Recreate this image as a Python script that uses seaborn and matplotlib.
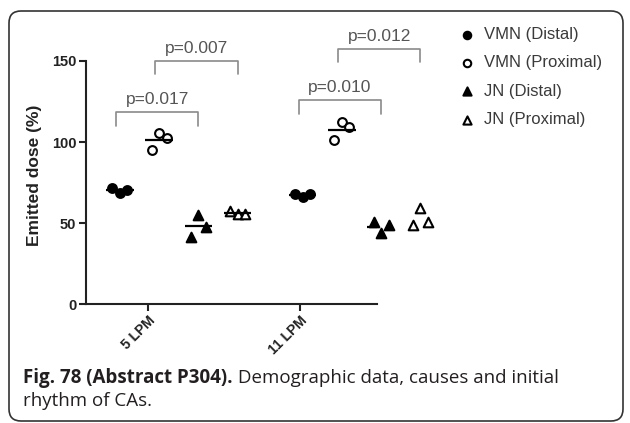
import numpy as np
import pandas as pd
import seaborn as sns
import matplotlib
matplotlib.use("Agg")
import matplotlib.pyplot as plt
from matplotlib.patches import FancyBboxPatch
from matplotlib.transforms import IdentityTransform

# ---------------- data ----------------
groups = ["5 LPM", "11 LPM"]
series = ["VMN (Distal)", "VMN (Proximal)", "JN (Distal)", "JN (Proximal)"]
vmn_distal = [[71.6, 68.5, 70.4], [67.9, 66.0, 67.9]]
vmn_proximal = [[95.1, 105.6, 102.5], [101.2, 112.3, 109.3]]
jn_distal = [[41.4, 54.9, 47.5], [50.6, 43.8, 48.8]]
jn_proximal = [[57.4, 55.6, 55.6], [48.8, 59.3, 50.6]]
p_labels = ["p=0.017", "p=0.007", "p=0.010", "p=0.012"]
yticks = [0, 50, 100, 150]
ylabel = "Emitted dose (%)"
caption_bold = "Fig. 78 (Abstract P304)."
caption_rest = " Demographic data, causes and initial"
caption_line2 = "rhythm of CAs."

# ---------------- style ----------------
sns.set_style("ticks")
plt.rcParams["font.family"] = ["Liberation Sans", "DejaVu Sans"]

fig = plt.figure(figsize=(6.30, 4.23), dpi=100)
ax = fig.add_axes([86 / 630, 1 - 304 / 423, (377 - 86) / 630, (304 - 61) / 423])

all_vals = [vmn_distal, vmn_proximal, jn_distal, jn_proximal]
rows = []
for gi, g in enumerate(groups):
    for si, s in enumerate(series):
        for pi, v in enumerate(all_vals[si][gi]):
            rows.append(dict(group=g, series=s, gi=gi, si=si, pi=pi, value=v))
df = pd.DataFrame(rows)
SERIES_STEP = 0.215
POINT_STEP = 0.041
df["center"] = df.gi + (df.si - 1.5) * SERIES_STEP
df["x"] = df.center + (df.pi - 1) * POINT_STEP

styles = {
    "VMN (Distal)": dict(marker="o", color="black", s=40),
    "VMN (Proximal)": dict(marker="o", color="white", s=40),
    "JN (Distal)": dict(marker="^", color="black", s=48),
    "JN (Proximal)": dict(marker="^", color="white", s=48),
}
for s in series:
    sub = df[df.series == s]
    st = styles[s]
    sns.scatterplot(data=sub, x="x", y="value", marker=st["marker"], color=st["color"],
                    s=st["s"], edgecolor="black", linewidth=1.5, ax=ax, label=s,
                    zorder=3, clip_on=False)

# mean lines
means = df.groupby(["gi", "si"]).agg(value=("value", "mean"), center=("center", "first")).reset_index()
ax.hlines(means.value, means.center - 0.075, means.center + 0.075, color="black", lw=1.6, zorder=4)

# brackets (group, series a, series b, top, leg bottom)
bracket_layout = [(0, 0, 2, 118.5, 110.0), (0, 1, 3, 150.0, 141.7),
                  (1, 0, 2, 126.0, 117.0), (1, 1, 3, 157.4, 149.4)]
for (gi, sa, sb, top, bot), lab in zip(bracket_layout, p_labels):
    xa = gi + (sa - 1.5) * SERIES_STEP - 0.02
    xb = gi + (sb - 1.5) * SERIES_STEP
    ax.plot([xa, xa, xb, xb], [bot, top, top, bot], color="#8a8a8a", lw=1.2,
            clip_on=False, zorder=2)
    ax.text((xa + xb) / 2, top + 3.2, lab, ha="center", va="bottom", fontsize=12.5,
            color="#555555", clip_on=False)

# axes
ax.set_xlim(-0.5075, 1.085)
ax.set_ylim(0, 150)
ax.set_yticks(yticks)
ax.set_xticks([-0.168, 0.663])
ax.set_xticklabels(groups, rotation=45, ha="right", va="top", rotation_mode="anchor",
                   fontweight="bold", fontsize=10, color="#222222")
for lab in ax.get_yticklabels():
    lab.set_fontweight("bold")
    lab.set_fontsize(10.5)
    lab.set_color("#222222")
ax.set_xlabel("")
ax.set_ylabel(ylabel, fontweight="bold", fontsize=12.5, color="#222222")
ax.yaxis.set_label_coords(-0.15, 0.53)
sns.despine(ax=ax)
for sp in ["left", "bottom"]:
    ax.spines[sp].set_linewidth(1.5)
    ax.spines[sp].set_color("#222222")
ax.tick_params(axis="both", length=5, width=1.5, color="#222222", pad=2)
ax.set_facecolor("none")

# legend
handles, labels = ax.get_legend_handles_labels()
ax.legend_.remove()
fig.legend(handles, labels, loc="upper left", bbox_to_anchor=(457 / 630, 1 - 27 / 423),
           frameon=False, fontsize=12, labelcolor="#3a3a3a", handletextpad=0.4,
           labelspacing=0.8, handlelength=1.2, borderaxespad=0, borderpad=0,
           markerscale=0.85)

# caption
cap_font = ["Open Sans", "DejaVu Sans"]
CAP_FS = 13.5
t1 = fig.text(23 / 630, 1 - 383 / 423, caption_bold, fontsize=CAP_FS, fontweight="bold",
              family=cap_font, color="#231f20", va="baseline", ha="left")
fig.canvas.draw()
t2 = fig.text(0, 0, caption_rest, fontsize=CAP_FS, family=cap_font, color="#231f20",
              va="baseline", ha="left")
bb = t1.get_window_extent()
t2.set_position((bb.x1 / 630, 1 - 383 / 423))
fig.text(23 / 630, 1 - 406 / 423, caption_line2, fontsize=CAP_FS, family=cap_font,
         color="#231f20", va="baseline", ha="left")

# rounded border
box = FancyBboxPatch((9, 423 - 421), 614, 410, boxstyle="round,pad=0,rounding_size=12",
                     transform=IdentityTransform(), fill=False, edgecolor="#333333", lw=1.2)
fig.add_artist(box)

fig.savefig("out.png", dpi=100)
